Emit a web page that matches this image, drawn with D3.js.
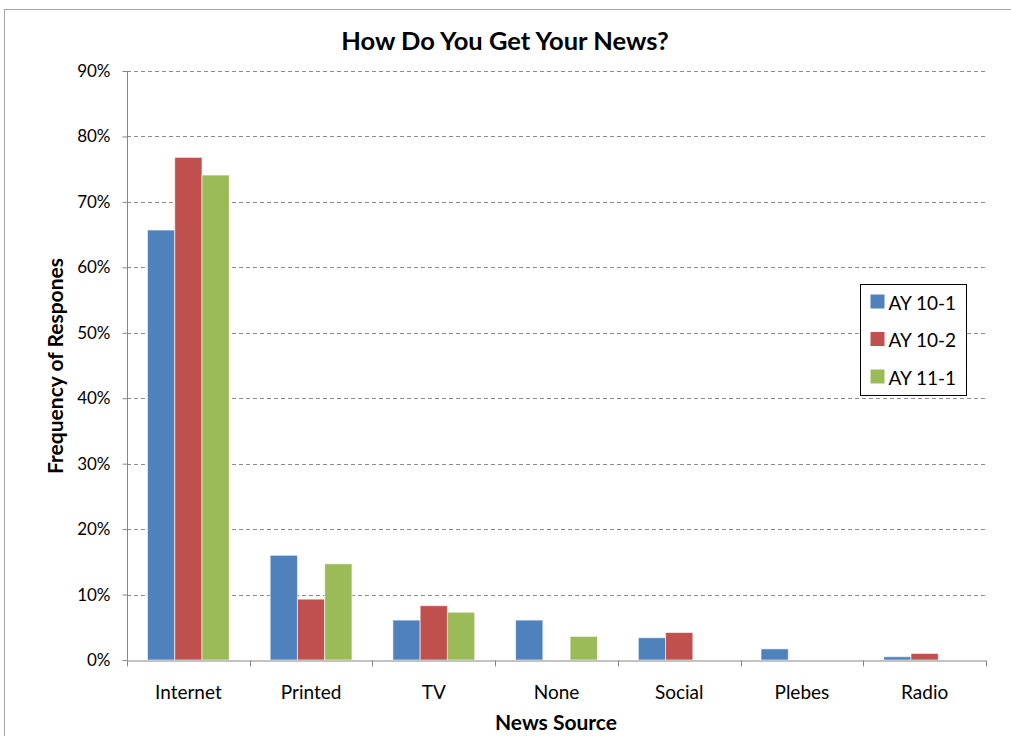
<!DOCTYPE html>
<html lang="en">

<head>
    <meta charset="utf-8">
    <script src="https://d3js.org/d3.v7.min.js"></script>
    <style>
        body { margin: 0; background: #fff; }
        svg { display: block; }
        svg text { font-family: Lato, "Open Sans", sans-serif; }
    </style>
</head>

<body>
    <div class="chart"></div>

    <script>
        // data
        const sources = ["Internet", "Printed", "TV", "None", "Social", "Plebes", "Radio"];
        const seriesNames = ["AY 10-1", "AY 10-2", "AY 11-1"];
        const ay101 = [65.7, 16.0, 6.1, 6.1, 3.4, 1.7, 0.5];
        const ay102 = [76.8, 9.3, 8.3, 0, 4.2, 0, 1.0];
        const ay111 = [74.1, 14.7, 7.3, 3.6, 0, 0, 0];
        const yTicks = [0, 10, 20, 30, 40, 50, 60, 70, 80, 90];
        const colors = ["#4F81BD", "#C0504D", "#9BBB59"];

        const series = [ay101, ay102, ay111];

        const width = 1011;
        const height = 736;
        const plot = { left: 127, right: 986, top: 71, bottom: 660 };

        const svg = d3.select(".chart").append("svg")
            .attr("width", width)
            .attr("height", height);

        // outer chart border
        svg.append("rect")
            .attr("x", 4.5).attr("y", 9.5)
            .attr("width", width + 10).attr("height", height + 10)
            .attr("fill", "none")
            .attr("stroke", "#a6a6a6");

        const x = d3.scaleBand()
            .domain(sources)
            .range([plot.left, plot.right]);

        // bars inside a category, gap width 150%
        const x1 = d3.scaleBand()
            .domain(d3.range(series.length))
            .range([0, x.bandwidth()])
            .paddingOuter(0.75);

        const y = d3.scaleLinear()
            .domain([0, 90])
            .range([plot.bottom, plot.top]);

        // dashed gridlines
        svg.append("g")
            .selectAll("line")
            .data(yTicks.filter(d => d > 0))
            .enter()
            .append("line")
            .attr("x1", plot.left)
            .attr("x2", plot.right)
            .attr("y1", d => Math.round(y(d)) + 0.5)
            .attr("y2", d => Math.round(y(d)) + 0.5)
            .attr("stroke", "#8c8c8c")
            .attr("stroke-dasharray", "4,3");

        // bars
        const groups = svg.append("g")
            .selectAll("g")
            .data(series)
            .enter()
            .append("g")
            .attr("fill", (d, i) => colors[i]);

        groups.selectAll("rect")
            .data((d, i) => d.map((v, j) => ({ v: v, s: i, c: sources[j] })))
            .enter()
            .filter(d => d.v > 0)
            .append("rect")
            .attr("x", d => x(d.c) + x1(d.s))
            .attr("y", d => y(d.v))
            .attr("width", x1.bandwidth())
            .attr("height", d => y(0) - y(d.v))
            .attr("stroke", "rgba(255,255,255,0.6)")
            .attr("stroke-width", 1);

        // y axis
        const yAxis = svg.append("g")
            .attr("transform", "translate(" + (plot.left + 0.5) + ",0)")
            .call(d3.axisLeft(y).tickValues(yTicks).tickSize(5).tickPadding(12)
                .tickFormat(d => d + "%"));
        yAxis.select(".domain").attr("stroke", "#868686").attr("d", "M0," + plot.top + "V" + plot.bottom);
        yAxis.selectAll(".tick line").attr("stroke", "#868686");
        yAxis.selectAll("text")
            .attr("fill", "#000")
            .style("font-size", "17px");

        // x axis
        const xAxis = svg.append("g")
            .attr("transform", "translate(0," + (plot.bottom + 0.5) + ")")
            .call(d3.axisBottom(x).tickSize(0).tickPadding(25));
        xAxis.select(".domain").attr("stroke", "#868686");
        xAxis.selectAll("text")
            .attr("fill", "#000")
            .style("font-size", "19px");
        // tick marks between categories
        xAxis.append("g")
            .selectAll("line")
            .data(d3.range(sources.length + 1))
            .enter()
            .append("line")
            .attr("x1", i => Math.round(plot.left + i * x.step()) + 0.5)
            .attr("x2", i => Math.round(plot.left + i * x.step()) + 0.5)
            .attr("y1", 0)
            .attr("y2", 6)
            .attr("stroke", "#868686");

        // title
        svg.append("text")
            .attr("x", 505)
            .attr("y", 50)
            .attr("text-anchor", "middle")
            .style("font-size", "25.5px")
            .style("font-weight", "bold")
            .text("How Do You Get Your News?");

        // axis titles
        svg.append("text")
            .attr("x", 556)
            .attr("y", 730)
            .attr("text-anchor", "middle")
            .style("font-size", "21px")
            .style("font-weight", "bold")
            .text("News Source");

        svg.append("text")
            .attr("transform", "translate(63,366) rotate(-90)")
            .attr("text-anchor", "middle")
            .style("font-size", "21px")
            .style("font-weight", "bold")
            .text("Frequency of Respones");

        // legend
        const legend = svg.append("g")
            .attr("transform", "translate(860.5,284.5)");
        legend.append("rect")
            .attr("width", 106)
            .attr("height", 111)
            .attr("fill", "#fff")
            .attr("stroke", "#000");
        const items = legend.selectAll("g")
            .data(seriesNames)
            .enter()
            .append("g")
            .attr("transform", (d, i) => "translate(0," + (10 + i * 37.5) + ")");
        items.append("rect")
            .attr("x", 10)
            .attr("y", 0)
            .attr("width", 14)
            .attr("height", 14)
            .attr("fill", (d, i) => colors[i]);
        items.append("text")
            .attr("x", 28)
            .attr("y", 15)
            .style("font-size", "19px")
            .text(d => d);
    </script>
</body>

</html>
